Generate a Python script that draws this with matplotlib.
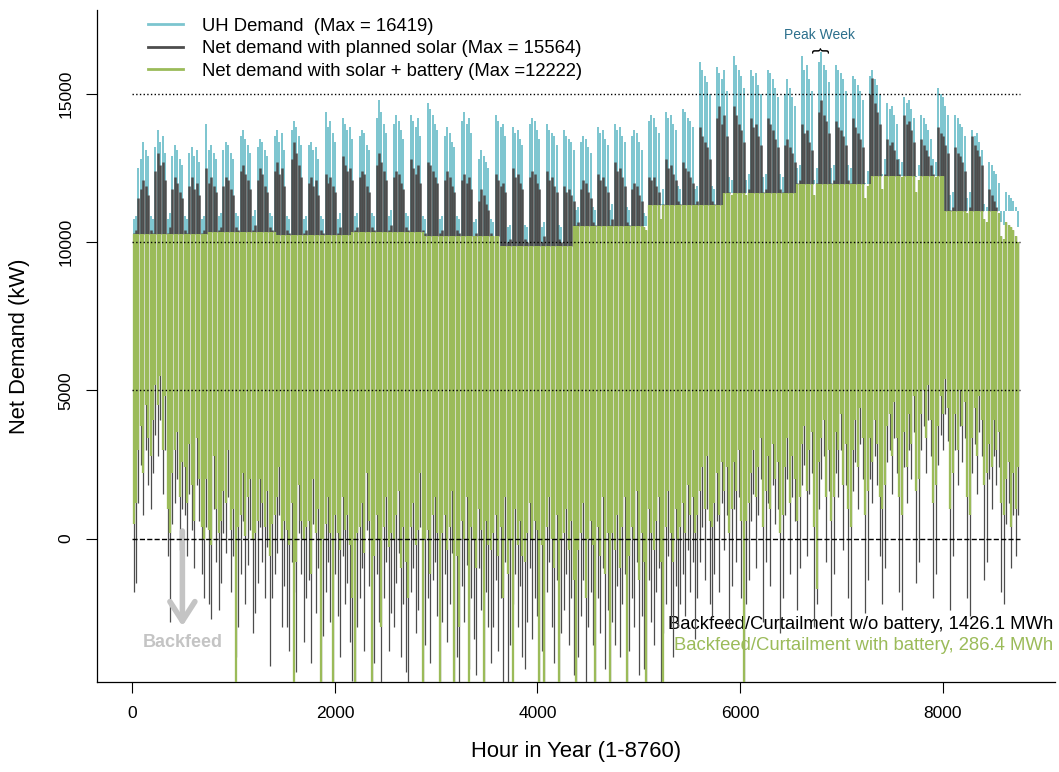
import numpy as np
import matplotlib
matplotlib.use('Agg')
import matplotlib.pyplot as plt
from matplotlib.lines import Line2D

plt.rcParams['font.family'] = ['Liberation Sans', 'DejaVu Sans']

# battery peak-shaving level per month (kW)
month_days = [31, 28, 31, 30, 31, 30, 31, 31, 30, 31, 30, 31]
batt_cap = [10280, 10340, 10260, 10350, 10200, 9860, 10540, 11270, 11670, 11970, 12222, 11070]

# daily values in hundreds of kW, one row per week (weekend, weekend, 5 weekdays)
uh_peak = [
    108, 109, 125, 128, 134, 131, 129,
    109, 108, 132, 138, 134, 136, 130,
    108, 110, 129, 133, 131, 128, 126,
    109, 108, 130, 132, 129, 131, 127,
    108, 109, 140, 131, 133, 130, 128,
    109, 110, 131, 134, 133, 130, 128,
    110, 109, 136, 138, 135, 133, 130,
    109, 111, 132, 135, 134, 131, 129,
    110, 109, 136, 138, 134, 137, 131,
    109, 108, 138, 141, 139, 136, 133,
    108, 109, 133, 134, 131, 132, 128,
    109, 108, 144, 139, 141, 137, 134,
    108, 110, 142, 140, 138, 139, 135,
    109, 110, 136, 138, 137, 133, 131,
    110, 109, 142, 148, 144, 140, 137,
    109, 111, 140, 143, 141, 138, 135,
    110, 109, 143, 141, 139, 142, 136,
    109, 108, 147, 145, 143, 140, 138,
    108, 109, 136, 139, 137, 134, 132,
    109, 108, 141, 144, 140, 142, 137,
    107, 108, 128, 131, 129, 127, 125,
    108, 107, 143, 141, 139, 140, 136,
    105, 106, 139, 137, 138, 135, 133,
    106, 105, 140, 142, 141, 138, 135,
    105, 107, 140, 138, 137, 136, 133,
    106, 105, 138, 136, 135, 134, 131,
    111, 112, 134, 136, 135, 132, 130,
    112, 111, 139, 137, 138, 135, 133,
    111, 113, 140, 138, 139, 136, 134,
    112, 111, 136, 138, 137, 134, 131,
    110, 109, 141, 143, 142, 139, 137,
    113, 118, 144, 142, 143, 140, 138,
    119, 118, 145, 144, 142, 141, 139,
    118, 119, 161, 158, 156, 154, 150,
    119, 118, 159, 157, 155, 158, 151,
    122, 121, 163, 160, 158, 156, 152,
    121, 123, 158, 156, 157, 153, 150,
    122, 123, 158, 157, 155, 152, 149,
    123, 122, 150, 155, 152, 149, 146,
    125, 126, 163, 158, 160, 155, 151,
    121, 125, 161, 164.2, 160, 158, 154,
    125, 126, 160, 158, 157, 155, 151,
    126, 125, 156, 155, 153, 151, 148,
    120, 124, 156, 158, 155, 153, 150,
    123, 128, 147, 145, 146, 143, 140,
    128, 127, 149, 147, 148, 145, 142,
    122, 126, 143, 142, 140, 138, 135,
    128, 127, 152, 150, 149, 146, 143,
    116, 117, 143, 142, 140, 139, 136,
    115, 117, 138, 136, 137, 134, 131,
    113, 112, 127, 126, 124, 123, 120,
    107, 106, 117, 116, 115, 114, 112,
    105,
]

net_peak = [
    103, 104, 115, 118, 121, 119, 116,
    104, 103, 124, 130, 126, 127, 121,
    103, 105, 118, 122, 120, 117, 115,
    104, 103, 119, 122, 118, 120, 116,
    103, 104, 125, 120, 122, 119, 117,
    104, 105, 119, 122, 121, 118, 116,
    105, 104, 124, 126, 123, 121, 118,
    104, 106, 121, 125, 123, 119, 117,
    105, 104, 124, 127, 123, 125, 119,
    104, 103, 128, 134, 130, 126, 122,
    103, 104, 120, 122, 119, 121, 116,
    104, 103, 123, 120, 122, 119, 117,
    103, 105, 129, 126, 124, 125, 121,
    104, 105, 122, 124, 123, 119, 117,
    105, 104, 126, 130, 127, 124, 121,
    104, 106, 122, 124, 123, 120, 118,
    105, 104, 128, 125, 123, 126, 120,
    104, 103, 127, 126, 124, 122, 120,
    103, 104, 121, 124, 122, 119, 117,
    104, 103, 121, 123, 120, 122, 118,
    102, 103, 114, 118, 116, 113, 111,
    103, 102, 123, 121, 119, 120, 117,
    100, 101, 125, 122, 123, 120, 118,
    101, 100, 122, 124, 123, 120, 118,
    100, 102, 124, 121, 122, 119, 117,
    101, 100, 119, 117, 118, 116, 114,
    106, 107, 118, 121, 120, 117, 115,
    107, 106, 123, 121, 122, 119, 117,
    106, 108, 127, 124, 125, 122, 119,
    107, 106, 118, 120, 119, 116, 114,
    105, 104, 122, 121, 122, 119, 117,
    108, 113, 128, 125, 126, 123, 121,
    114, 113, 127, 125, 124, 122, 120,
    113, 114, 139, 136, 134, 132, 128,
    114, 113, 142, 146, 140, 143, 136,
    117, 116, 146, 143, 140, 138, 134,
    116, 118, 142, 139, 140, 136, 133,
    117, 118, 142, 140, 138, 135, 132,
    118, 117, 133, 135, 132, 130, 127,
    120, 121, 140, 137, 138, 134, 131,
    116, 120, 144, 148, 143, 141, 137,
    120, 121, 141, 139, 138, 136, 133,
    121, 120, 142, 139, 137, 135, 132,
    115, 119, 150, 155.6, 147, 144, 140,
    118, 123, 135, 133, 134, 131, 128,
    123, 122, 143, 140, 141, 138, 134,
    117, 121, 135, 133, 131, 129, 126,
    123, 122, 139, 137, 136, 133, 130,
    111, 112, 132, 130, 129, 127, 124,
    110, 112, 136, 133, 131, 129, 126,
    108, 107, 118, 116, 114, 112, 110,
    102, 101, 107, 106, 105, 104, 102,
    100,
]

net_low = [
    -18, -15, 12, 25, 8, 30, 18,
    10, 22, 35, 28, 40, 15, 30,
    -6, -28, 5, 12, 20, -4, 10,
    8, -6, 15, 3, -10, 18, 6,
    -12, -20, 4, -22, -27, 10, -8,
    -24, -15, 2, -5, 14, -18, -6,
    -40, -30, -12, 6, -22, -9, 3,
    -32, -25, -15, 4, -8, -20, -3,
    -43, -20, -12, -5, 8, -30, -16,
    -30, -38, -8, -18, -45, 2, -12,
    -35, -20, -14, -42, 5, -25, -10,
    -52, -33, -18, -8, -28, -50, -12,
    -26, -40, -6, -22, -15, -35, -48,
    -50, -30, -20, -10, -38, 3, -16,
    -50, -42, -12, -28, -50, -20, -8,
    -38, -25, -30, -15, -5, -40, -22,
    -45, -50, -18, -10, -32, -24, 4,
    -52, -36, -20, -42, -14, -8, -26,
    -50, -28, -12, -35, -22, -5, -50,
    -40, -50, -16, -28, -9, -44, -20,
    -34, -46, -10, -24, -50, -18, -30,
    -42, -30, -14, -38, -20, -50, -8,
    -50, -36, -22, -12, -30, -16, -40,
    -44, -28, -10, -34, -20, -26, -50,
    -38, -50, -18, -8, -30, -42, -14,
    -50, -32, -24, -12, -36, -20, -46,
    -52, -40, -26, -14, -50, -30, -18,
    -36, -50, -20, -32, -10, -44, -24,
    -50, -28, -36, -16, -40, -22, -12,
    -52, -38, -20, -30, -8, -46, -26,
    -44, -50, -14, -28, -36, -18, -10,
    -50, -32, -22, -6, -30, -40, -16,
    -30, -22, -12, -26, -4, -18, -8,
    -34, -20, -8, 4, -14, 10, -22,
    -26, -12, 6, -18, 12, -4, 8,
    -30, -16, 10, -8, 14, -20, -50,
    -22, -14, 6, 15, -10, 8, 20,
    -28, -8, 12, -16, 18, 5, 10,
    -32, -20, 8, 20, -12, 14, 6,
    -24, -10, 18, 25, -6, 15, 22,
    -30, -22, 10, 20, 28, -8, 16,
    -26, -12, 22, 14, 30, -4, 18,
    -20, -28, 16, 26, 10, 32, 20,
    -25, -14, 20, 12, 28, 18, -6,
    -22, -10, 26, 30, 15, 34, 22,
    -18, -24, 24, 12, 30, 20, 36,
    -15, -8, 30, 38, 22, 40, 28,
    -20, -12, 25, 35, 30, 42, 33,
    -24, -6, 30, 18, 38, 26, 34,
    -20, -26, 22, 32, 15, 36, 28,
    -14, -8, 20, 10, 28, 18, 24,
    -18, -22, 5, 12, -10, 8, -6,
    8,
]

batt_low = [
    5, 12, 30, 38, 22, 45, 34,
    28, 40, 52, 45, 55, 30, 48,
    10, 2, 22, 30, 36, 14, 26,
    24, 12, 32, 18, 6, 34, 20,
    4, 0, 20, 3, -2, 28, 10,
    2, 6, 16, 12, 30, 3, 10,
    -50, 4, 8, 22, 1, 14, 20,
    0, 2, 6, 20, 12, 4, 16,
    -6, 5, 8, 14, 24, 0, 6,
    3, -2, 12, -50, -8, 18, 6,
    0, 4, 6, -12, 20, 2, 10,
    -50, 0, 5, 14, 2, -50, 8,
    2, -4, 14, 3, 8, -2, -20,
    -50, 2, 4, 12, -5, 22, 6,
    -50, -6, 8, 0, -30, 4, 14,
    -3, 2, 0, 8, 16, -10, 4,
    -8, -20, 4, 12, -2, 3, 22,
    -50, 0, 3, -12, 8, 14, 2,
    -50, 2, 8, -4, 4, 16, -50,
    -6, -30, 6, 0, 14, -50, 4,
    0, -10, 10, 3, -50, 6, -2,
    -4, 2, 8, -6, 4, -20, 14,
    -12, 0, -50, 10, -2, 6, -6,
    -8, 2, 12, 0, 6, 3, -50,
    -2, -50, 4, 14, 0, -10, 8,
    -50, 0, 2, 10, -4, 6, -14,
    -50, -4, 2, 12, -20, 0, 6,
    -2, -50, 4, -6, 14, -12, 2,
    -50, 2, -4, 8, -10, 4, 14,
    -50, -6, 4, 0, 16, -14, 2,
    -8, -50, 10, 2, -4, 6, 14,
    -8, -50, 4, 16, 2, -8, 10,
    0, 4, 12, 2, 18, 8, 14,
    2, 8, 16, 24, 10, 28, 6,
    4, 12, 22, 8, 26, 16, 24,
    2, 10, 26, 16, 30, 6, -50,
    6, 12, 22, 30, 14, 24, 34,
    4, 16, 28, 10, 32, 20, 26,
    2, 8, 24, 34, 12, 28, 20,
    6, 14, 32, 38, 16, 30, 36,
    4, -17, 26, 34, 40, 14, 30,
    6, 14, 36, 30, 42, 18, 32,
    10, 4, 30, 40, 24, 44, 34,
    8, 16, 34, 26, 40, 32, 14,
    10, 18, 38, 42, 28, 46, 34,
    14, 8, 36, 24, 42, 32, 48,
    16, 20, 42, 50, 34, 52, 40,
    12, 18, 38, 48, 42, 54, 44,
    10, 22, 42, 30, 50, 38, 46,
    14, 8, 34, 44, 28, 48, 40,
    18, 22, 32, 24, 40, 30, 36,
    12, 8, 20, 26, 4, 22, 10,
    24,
]

uh = np.array(uh_peak) * 100
net = np.array(net_peak) * 100
nlo = np.array(net_low) * 100
blo = np.array(batt_low) * 100
cap = np.repeat(batt_cap, month_days)
batt_top = np.minimum(cap, net)
hours = np.arange(len(uh)) * 24 + 12

c_uh = '#7cc5cf'
c_net = '#4d4d4d'
c_bat = '#9bbb59'

fig = plt.figure(figsize=(10.59, 7.72), dpi=100)
ax = fig.add_axes([97 / 1059, 1 - 682 / 772, 958 / 1059, 672 / 772])

# UH demand
ax.vlines(hours, cap, uh, colors=c_uh, lw=1.4, zorder=2)
# net demand with solar: solid above the battery level, thin dips below
ax.vlines(hours, batt_top, net, colors=c_net, lw=1.8, zorder=3)
ax.vlines(hours, nlo, batt_top, colors=c_net, lw=0.9, zorder=3)
# net demand with solar + battery
ax.vlines(hours, blo, batt_top, colors=c_bat, lw=1.65, zorder=4)

ax.hlines([5000, 10000, 15000], 0, 8760, colors='black', linestyles=':', lw=1, zorder=6)
ax.hlines(0, 0, 8760, colors='black', linestyles='--', lw=1, zorder=6)

ax.set_xlim(-349, 9110)
ax.set_ylim(-4840, 17840)
ax.set_xticks([0, 2000, 4000, 6000, 8000])
ax.set_xticklabels(['0', '2000', '4000', '6000', '8000'], fontsize=12.5)
ax.set_yticks([0, 5000, 10000, 15000])
ax.set_yticklabels(['0', '5000', '10000', '15000'], fontsize=12.5, rotation=90, va='center')
ax.tick_params(axis='both', direction='out', length=8, width=0.8)
ax.tick_params(axis='x', pad=9)
ax.tick_params(axis='y', pad=9)
for s in ['top', 'right']:
    ax.spines[s].set_visible(False)
for s in ['left', 'bottom']:
    ax.spines[s].set_linewidth(0.9)

fig.text(576 / 1059, 1 - 752 / 772, 'Hour in Year (1-8760)', ha='center', va='center', fontsize=15.8)
fig.text(20 / 1059, 1 - 346 / 772, 'Net Demand (kW)', ha='center', va='center', fontsize=15.8, rotation=90)

handles = [Line2D([], [], color=c_uh, lw=2),
           Line2D([], [], color=c_net, lw=2),
           Line2D([], [], color=c_bat, lw=2)]
labels = ['UH Demand  (Max = 16419)',
          'Net demand with planned solar (Max = 15564)',
          'Net demand with solar + battery (Max =12222)']
ax.legend(handles, labels, loc='upper left', bbox_to_anchor=(0.040, 1.008), frameon=False,
          fontsize=13.3, handlelength=1.9, handletextpad=1.0, labelspacing=0.3, borderaxespad=0.3)

# annotations
ax.text(6785, 17000, 'Peak Week', ha='center', va='center', color='#2b6f8c', fontsize=10)
ax.text(6785, 16480, '{', ha='center', va='center', rotation=-90, fontsize=13, color='black')

ax.annotate('', xy=(494, -3050), xytext=(494, 350),
            arrowprops=dict(arrowstyle='->, head_length=0.7, head_width=0.45',
                            color='#c4c4c4', lw=4, mutation_scale=20), zorder=5)
ax.text(494, -3500, 'Backfeed', ha='center', va='center', color='#c4c4c4',
        fontsize=13, fontweight='bold', zorder=5)

ax.text(0.998, 0.085, 'Backfeed/Curtailment w/o battery, 1426.1 MWh', transform=ax.transAxes,
        ha='right', va='center', fontsize=13.3, color='black', zorder=1)
ax.text(0.998, 0.055, 'Backfeed/Curtailment with battery, 286.4 MWh', transform=ax.transAxes,
        ha='right', va='center', fontsize=13.3, color=c_bat, zorder=1)

fig.savefig('out.png', dpi=100)
